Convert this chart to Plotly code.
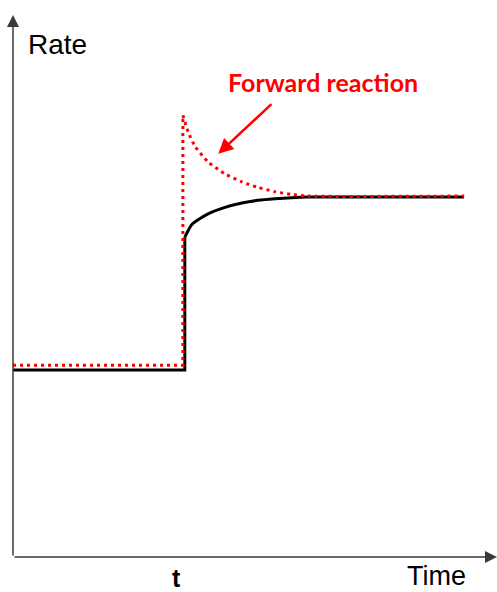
import plotly.graph_objects as go

# Reaction rate before and after a disturbance at time t
t_change = 3.55

# Reverse (black) rate: low steady level, jump at t, then rises to equilibrium
rev_step_x = [0.0, 3.55, 3.55]
rev_step_y = [3.45, 3.45, 5.90]
rev_curve_x = [3.55, 3.70, 4.03, 4.38, 4.73, 5.06, 5.41, 5.76, 6.10, 9.32]
rev_curve_y = [5.90, 6.14, 6.33, 6.45, 6.53, 6.58, 6.61, 6.63, 6.64, 6.64]

# Forward (red dotted) rate: jumps to a peak at t, then decays to equilibrium
fwd_step_x = [0.0, 3.51, 3.51]
fwd_step_y = [3.54, 3.54, 8.15]
fwd_curve_x = [3.51, 3.62, 3.76, 4.03, 4.38, 4.73, 5.06, 5.41, 5.76, 6.10, 9.32]
fwd_curve_y = [8.15, 7.84, 7.58, 7.29, 7.07, 6.92, 6.82, 6.74, 6.69, 6.66, 6.66]

BLACK = "#000000"
RED = "#ff0000"
AXIS = "#3a3a3a"

fig = go.Figure()

fig.add_trace(go.Scatter(x=rev_step_x, y=rev_step_y, mode="lines",
                         line=dict(color=BLACK, width=3), cliponaxis=False))
fig.add_trace(go.Scatter(x=rev_curve_x, y=rev_curve_y, mode="lines",
                         line=dict(color=BLACK, width=3, shape="spline", smoothing=0.6),
                         cliponaxis=False))
fig.add_trace(go.Scatter(x=fwd_step_x, y=fwd_step_y, mode="lines",
                         line=dict(color=RED, width=3, dash="3px,4px"), cliponaxis=False))
fig.add_trace(go.Scatter(x=fwd_curve_x, y=fwd_curve_y, mode="lines",
                         line=dict(color=RED, width=3, dash="3px,4px", shape="spline", smoothing=0.6),
                         cliponaxis=False))

annotations = [
    # axis arrows
    dict(x=0, y=10, ax=0, ay=0, xref="x", yref="y", axref="x", ayref="y",
         text="", showarrow=True, arrowhead=2, arrowsize=1.6, arrowwidth=1.5,
         arrowcolor=AXIS, standoff=0),
    dict(x=10, y=0, ax=0, ay=0, xref="x", yref="y", axref="x", ayref="y",
         text="", showarrow=True, arrowhead=2, arrowsize=1.6, arrowwidth=1.5,
         arrowcolor=AXIS, standoff=0),
    # pointer to the forward-rate curve
    dict(x=4.24, y=7.44, ax=5.37, ay=8.38, xref="x", yref="y", axref="x", ayref="y",
         text="", showarrow=True, arrowhead=2, arrowsize=1.2, arrowwidth=2.5,
         arrowcolor=RED, standoff=0),
    # labels
    dict(x=0.091, y=0.945, xref="paper", yref="paper", text="Rate", showarrow=False,
         xanchor="center", yanchor="middle",
         font=dict(family="Liberation Sans, Arial", size=28, color="#000000")),
    dict(x=0.874, y=-0.035, xref="paper", yref="paper", text="Time", showarrow=False,
         xanchor="center", yanchor="middle",
         font=dict(family="Liberation Sans, Arial", size=27, color="#000000")),
    dict(x=0.337, y=-0.039, xref="paper", yref="paper", text="<b>t</b>", showarrow=False,
         xanchor="center", yanchor="middle",
         font=dict(family="Liberation Sans, Arial", size=25, color="#000000")),
    dict(x=0.640, y=0.876, xref="paper", yref="paper", text="<b>Forward reaction</b>",
         showarrow=False, xanchor="center", yanchor="middle",
         font=dict(family="Lato, Open Sans, sans-serif", size=25, color=RED)),
]

fig.update_layout(
    width=497, height=592,
    margin=dict(l=13, r=0, t=15, b=35),
    paper_bgcolor="white", plot_bgcolor="white",
    showlegend=False,
    xaxis=dict(range=[0, 10], visible=False, fixedrange=True),
    yaxis=dict(range=[0, 10], visible=False, fixedrange=True),
    annotations=annotations,
)

fig.write_html("out.html")
